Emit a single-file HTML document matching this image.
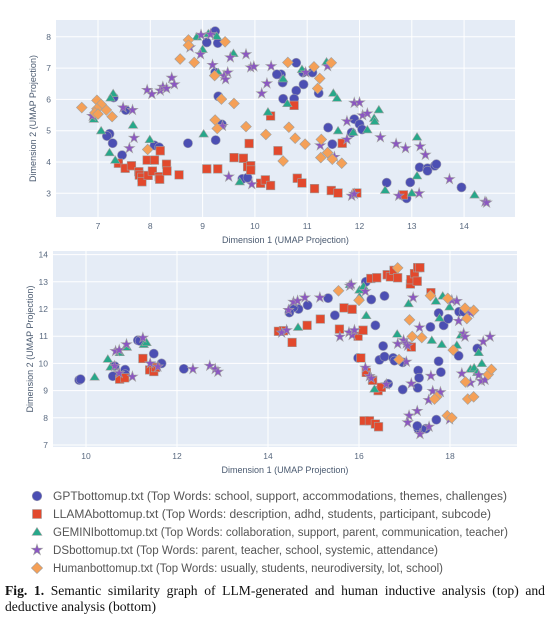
<!DOCTYPE html>
<html><head><meta charset="utf-8">
<style>
body{margin:0;background:#fff;width:556px;height:622px;overflow:hidden;font-family:"Liberation Sans",sans-serif;}
#caption{position:absolute;left:5px;top:583px;width:540px;font-family:"Liberation Serif",serif;font-size:13.6px;line-height:16px;text-align:justify;color:#111;}
</style></head>
<body>
<svg id="chart" width="556" height="622" style="position:absolute;left:0;top:0"></svg>
<div id="caption"><b>Fig. 1.</b> Semantic similarity graph of LLM-generated and human inductive analysis (top) and deductive analysis (bottom)</div>
<script>
// ---- TOP chart data ----
const topGPT_x=[9.24,9.08,9.29,9.24,9.3,7.53,7.22,7.17,7.28,9.37,9.25,8.72,7.46,8.08,8.17,7.3,9.76,9.86,10.79,10.5,10.53,10.92,11.1,10.93,10.79,11.22,10.54,10.75,11.9,12.0,12.05,11.85,11.4,11.48,13.15,13.3,13.3,13.44,13.47,12.97,12.52,12.9,13.95,10.42];
const topGPT_y=[8.18,7.82,7.8,6.86,6.1,5.66,4.9,4.83,4.6,5.2,4.7,4.6,4.22,4.53,4.47,6.06,3.46,3.5,7.17,6.8,6.54,6.86,6.86,6.48,6.28,6.2,6.02,6.02,5.37,5.21,5.04,4.94,5.1,4.57,3.83,3.8,3.72,3.88,3.93,3.35,3.34,2.84,3.19,6.8];
const topLLAMA_x=[7.39,7.52,7.64,7.78,7.79,7.84,7.84,7.94,8.08,8.19,7.96,8.04,8.17,8.18,8.31,8.32,8.55,9.08,9.29,9.6,9.78,9.89,9.86,9.92,9.92,10.11,10.2,10.3,10.3,10.44,10.75,11.67,10.81,10.9,11.14,11.46,11.59,11.95,12.84];
const topLLAMA_y=[3.96,3.8,3.88,3.69,3.58,3.51,3.37,4.06,4.06,4.36,3.57,3.71,3.53,3.45,3.93,3.71,3.59,3.78,3.78,4.14,4.12,4.59,3.85,3.88,3.74,3.32,3.43,3.25,5.47,4.36,5.81,4.6,3.48,3.33,3.15,3.09,3.01,3.01,2.95];
const topGEM_x=[8.89,9.11,9.27,9.0,9.59,9.3,7.29,7.24,6.92,7.06,7.22,7.33,7.67,7.99,9.02,9.71,10.25,11.37,10.9,10.54,10.62,11.5,11.57,12.37,12.28,12.29,12.15,11.88,11.59,13.1,13.1,12.49,13.0,14.2];
const topGEM_y=[8.0,8.1,8.02,7.6,7.47,6.86,6.19,6.05,5.37,5.0,4.3,4.06,5.18,4.72,4.9,3.37,5.6,7.2,6.96,6.66,5.87,6.2,6.04,5.67,5.4,5.3,5.03,4.95,5.0,4.8,3.56,3.1,3.01,2.95];
const topDS_x=[8.97,9.15,9.83,9.53,8.96,9.19,9.92,9.98,10.31,9.48,9.41,9.44,10.23,10.13,8.41,8.46,7.94,8.03,8.19,8.24,8.31,7.48,7.66,6.89,7.69,7.6,9.38,9.5,9.94,8.76,11.39,10.97,11.9,12.0,12.06,12.15,11.76,11.76,11.25,11.52,12.4,12.7,12.88,13.16,13.26,13.72,11.85,11.9,12.75,13.14,14.4,14.43];
const topDS_y=[8.06,8.08,7.44,7.34,7.44,7.1,7.02,7.05,7.06,6.86,6.75,6.64,6.51,6.19,6.69,6.48,6.3,6.17,6.28,6.4,6.35,5.74,5.66,5.47,4.77,4.44,5.15,3.53,3.29,7.66,7.06,6.86,5.89,5.9,5.49,5.55,5.3,4.72,4.53,4.16,4.79,4.58,4.44,4.5,4.23,3.45,2.92,2.98,2.92,3.0,2.73,2.7];
const topHUM_x=[8.73,8.73,8.57,8.84,9.43,9.23,9.36,9.6,9.24,9.28,9.83,10.21,6.69,6.98,7.06,6.98,7.16,6.94,7.0,7.27,7.95,10.63,11.13,11.46,11.24,11.2,10.65,10.77,10.96,11.27,11.39,11.26,11.48,11.66,10.54];
const topHUM_y=[7.9,7.73,7.29,7.18,7.84,6.76,6.01,5.87,5.34,5.07,5.13,4.88,5.74,5.97,5.84,5.7,5.66,5.57,5.53,5.45,4.4,7.18,7.04,7.17,6.67,6.35,5.11,4.76,4.57,4.72,4.3,4.14,4.09,3.96,4.03];
const topXTicks=[7,8,9,10,11,12,13,14];
const topYTicks=[3,4,5,6,7,8];
// ---- BOTTOM chart data ----
const botGPT_x=[9.85,9.88,11.14,11.18,11.49,11.66,10.86,10.86,10.59,10.63,12.15,11.5,16.15,16.27,16.56,15.32,14.87,14.67,14.56,14.47,15.47,16.36,16.53,15.98,16.45,16.56,16.75,16.78,16.96,16.64,16.96,17.29,17.3,17.32,17.8,17.75,17.57,17.75,17.86,17.96,18.2,18.3,18.6,18.19,17.7,17.3,17.36,17.47,17.28];
const botGPT_y=[9.39,9.42,10.85,10.83,10.36,10.0,9.77,9.6,9.53,9.9,9.8,9.87,13.0,12.35,12.48,12.4,12.14,12.0,12.06,11.87,11.77,11.4,10.64,10.2,10.13,10.25,10.2,10.1,10.04,9.25,9.04,9.1,9.74,9.47,9.68,10.08,11.34,11.85,11.4,11.64,11.9,11.9,10.55,10.28,7.93,7.6,7.55,7.6,7.7];
const botLLAMA_x=[11.25,10.74,10.85,11.4,11.49,11.53,14.23,14.34,14.53,14.86,15.15,15.57,15.67,15.85,15.98,16.09,16.04,16.16,16.3,16.42,16.49,16.26,16.39,16.62,16.69,16.77,16.85,17.13,17.14,17.22,17.29,17.34,17.28,17.58,17.15,16.11,16.23,16.36,16.43];
const botLLAMA_y=[10.18,9.42,9.47,9.76,9.7,9.85,11.18,11.2,10.77,11.4,11.63,11.26,12.04,11.99,11.0,11.22,10.2,9.67,9.38,9.0,9.12,13.12,13.15,13.26,13.18,13.42,13.15,12.92,13.08,13.3,13.52,13.52,13.02,12.6,10.6,7.89,7.89,7.77,7.67];
const botGEM_x=[10.19,10.48,10.54,10.74,10.87,10.9,11.27,11.33,14.66,15.8,16.01,16.01,16.1,16.16,16.84,17.09,17.6,17.69,17.84,17.77,17.99,17.82,18.15,18.24,18.63,18.7,18.45,18.53,18.6,16.34];
const botGEM_y=[9.5,10.16,9.87,10.4,10.6,10.6,10.7,10.77,11.33,12.9,12.7,12.45,12.84,11.76,11.08,12.2,10.85,12.29,12.48,11.67,12.08,10.7,10.67,11.04,10.4,10.0,9.79,9.84,9.67,9.06];
const botDS_x=[10.65,10.73,10.89,11.25,10.63,10.73,11.02,11.41,11.58,12.35,12.72,12.84,12.9,14.3,14.41,14.45,14.56,14.65,14.81,15.14,15.8,15.83,16.14,15.58,15.78,15.85,15.9,17.19,16.85,16.98,17.04,17.07,17.04,17.33,16.14,16.23,16.27,16.6,17.15,17.53,17.62,17.79,17.28,17.1,17.07,17.34,17.54,17.58,18.04,18.15,18.19,18.3,18.33,18.45,18.26,18.45,18.63,18.69,18.77,18.73,18.88,17.99];
const botDS_y=[10.45,10.49,10.7,10.94,9.9,9.64,9.51,10.0,9.88,9.79,9.91,9.79,9.69,11.13,11.22,11.96,12.26,12.3,12.42,12.42,12.85,12.9,12.65,10.98,11.14,11.04,11.22,12.42,10.72,10.85,10.73,10.65,10.06,11.32,9.84,9.53,9.45,9.23,9.26,8.65,8.98,8.94,8.25,8.08,7.83,7.4,7.67,9.54,12.32,12.29,11.56,11.1,10.98,11.86,9.63,9.29,9.57,9.35,9.39,10.8,10.98,7.94];
const botHUM_x=[15.55,16.0,16.85,17.57,17.95,18.33,18.52,18.37,17.11,17.17,17.38,18.07,16.88,18.34,18.84,18.91,17.71,17.66,18.39,18.52,17.94,18.04];
const botHUM_y=[12.67,12.32,13.51,12.49,12.39,12.03,11.95,11.65,11.6,10.99,10.95,10.49,10.14,9.32,9.59,9.78,8.77,8.69,8.69,8.77,8.08,8.0];
const botXTicks=[10,12,14,16,18];
const botYTicks=[7,8,9,10,11,12,13,14];
const seriesNames=["GPTbottomup.txt (Top Words: school, support, accommodations, themes, challenges)","LLAMAbottomup.txt (Top Words: description, adhd, students, participant, subcode)","GEMINIbottomup.txt (Top Words: collaboration, support, parent, communication, teacher)","DSbottomup.txt (Top Words: parent, teacher, school, systemic, attendance)","Humanbottomup.txt (Top Words: usually, students, neurodiversity, lot, school)"];

const NS="http://www.w3.org/2000/svg";
const svg=document.getElementById('chart');
const colors=["#4c4fb3","#e2492d","#27a88a","#8b57c2","#f5a057"];
const shapes=["circle","square","triangle","star","diamond"];
function mk(tag,attrs,parent){const e=document.createElementNS(NS,tag);for(const k in attrs)e.setAttribute(k,attrs[k]);(parent||svg).appendChild(e);return e;}
function shapePath(s,cx,cy,r){
  if(s==="square")return `M${cx-r},${cy-r}H${cx+r}V${cy+r}H${cx-r}Z`;
  if(s==="triangle")return `M${cx},${cy-r}L${cx+r*1.1},${cy+r*0.75}L${cx-r*1.1},${cy+r*0.75}Z`;
  if(s==="diamond")return `M${cx},${cy-r*1.25}L${cx+r*1.25},${cy}L${cx},${cy+r*1.25}L${cx-r*1.25},${cy}Z`;
  if(s==="star"){let d="";for(let i=0;i<10;i++){const a=-Math.PI/2+i*Math.PI/5;const rr=i%2?r*0.5:r*1.3;d+=(i?"L":"M")+(cx+rr*Math.cos(a)).toFixed(2)+","+(cy+rr*Math.sin(a)).toFixed(2);}return d+"Z";}
  return null;
}
function marker(s,cx,cy,r,col,parent,name){
  let e;
  if(s==="circle")e=mk("circle",{cx:cx,cy:cy,r:r+0.3,fill:col,stroke:"#9a9ab0","stroke-width":0.6},parent);
  else e=mk("path",{d:shapePath(s,cx,cy,r),fill:col,stroke:"#a0a0a0","stroke-width":0.6},parent);
  
  
  return e;
}
function chart(cfg){
  const g=mk("g",{});
  
  
  const sx=v=>cfg.px0+(v-cfg.x0)*cfg.kx;
  const sy=v=>cfg.py0-(v-cfg.y0)*cfg.ky;
  const bg=mk("rect",{x:cfg.L,y:cfg.T,width:cfg.R-cfg.L,height:cfg.B-cfg.T,fill:"#e5ecf6"},g);
  
  
  cfg.xt.forEach(t=>{const x=sx(t);
    const l=mk("line",{x1:x,x2:x,y1:cfg.T,y2:cfg.B,stroke:"#fff","stroke-width":1},g);
    
    
    const tx=mk("text",{x:x,y:cfg.B+12,"font-size":8.5,fill:"#5a6a80","text-anchor":"middle"},g);tx.textContent=t;
    
    });
  cfg.yt.forEach(t=>{const y=sy(t);
    const l=mk("line",{x1:cfg.L,x2:cfg.R,y1:y,y2:y,stroke:"#fff","stroke-width":1},g);
    
    
    const tx=mk("text",{x:cfg.L-5,y:y+3,"font-size":8.5,fill:"#5a6a80","text-anchor":"end"},g);tx.textContent=t;
    
    });
  const xt=mk("text",{x:(cfg.L+cfg.R)/2,y:cfg.B+26,"font-size":9,fill:"#4a5a70","text-anchor":"middle"},g);xt.textContent="Dimension 1 (UMAP Projection)";
  
  
  const yx=cfg.L-20, yc=(cfg.T+cfg.B)/2;
  const yt=mk("text",{x:yx,y:yc,"font-size":9,fill:"#4a5a70","text-anchor":"middle",transform:`rotate(-90 ${yx} ${yc})`},g);yt.textContent="Dimension 2 (UMAP Projection)";
  
  
  cfg.series.forEach((s,i)=>{s[0].forEach((v,j)=>{marker(shapes[i],sx(v),sy(s[1][j]),4.3,colors[i],g,'point-'+shapes[i]);});});
}
chart({name:"top-chart",L:56,R:515,T:20,B:217,x0:7,px0:98,kx:52.3,y0:3,py0:193.3,ky:31.3,xt:topXTicks,yt:topYTicks,
  series:[[topGPT_x,topGPT_y],[topLLAMA_x,topLLAMA_y],[topGEM_x,topGEM_y],[topDS_x,topDS_y],[topHUM_x,topHUM_y]]});
chart({name:"bottom-chart",L:53,R:517,T:251,B:447,x0:10,px0:86,kx:45.5,y0:7,py0:445,ky:27.2,xt:botXTicks,yt:botYTicks,
  series:[[botGPT_x,botGPT_y],[botLLAMA_x,botLLAMA_y],[botGEM_x,botGEM_y],[botDS_x,botDS_y],[botHUM_x,botHUM_y]]});
// legend
seriesNames.forEach((n,i)=>{const y=496+i*18;
  marker(shapes[i],37,y,4.5,colors[i],svg,'legend-marker');
  const t=mk("text",{x:53,y:y+4,"font-size":11.5,fill:"#555",textLength:[454,438,455,385,390][i],lengthAdjust:"spacingAndGlyphs"});t.textContent=n;
  
  
});
</script>
</body></html>
